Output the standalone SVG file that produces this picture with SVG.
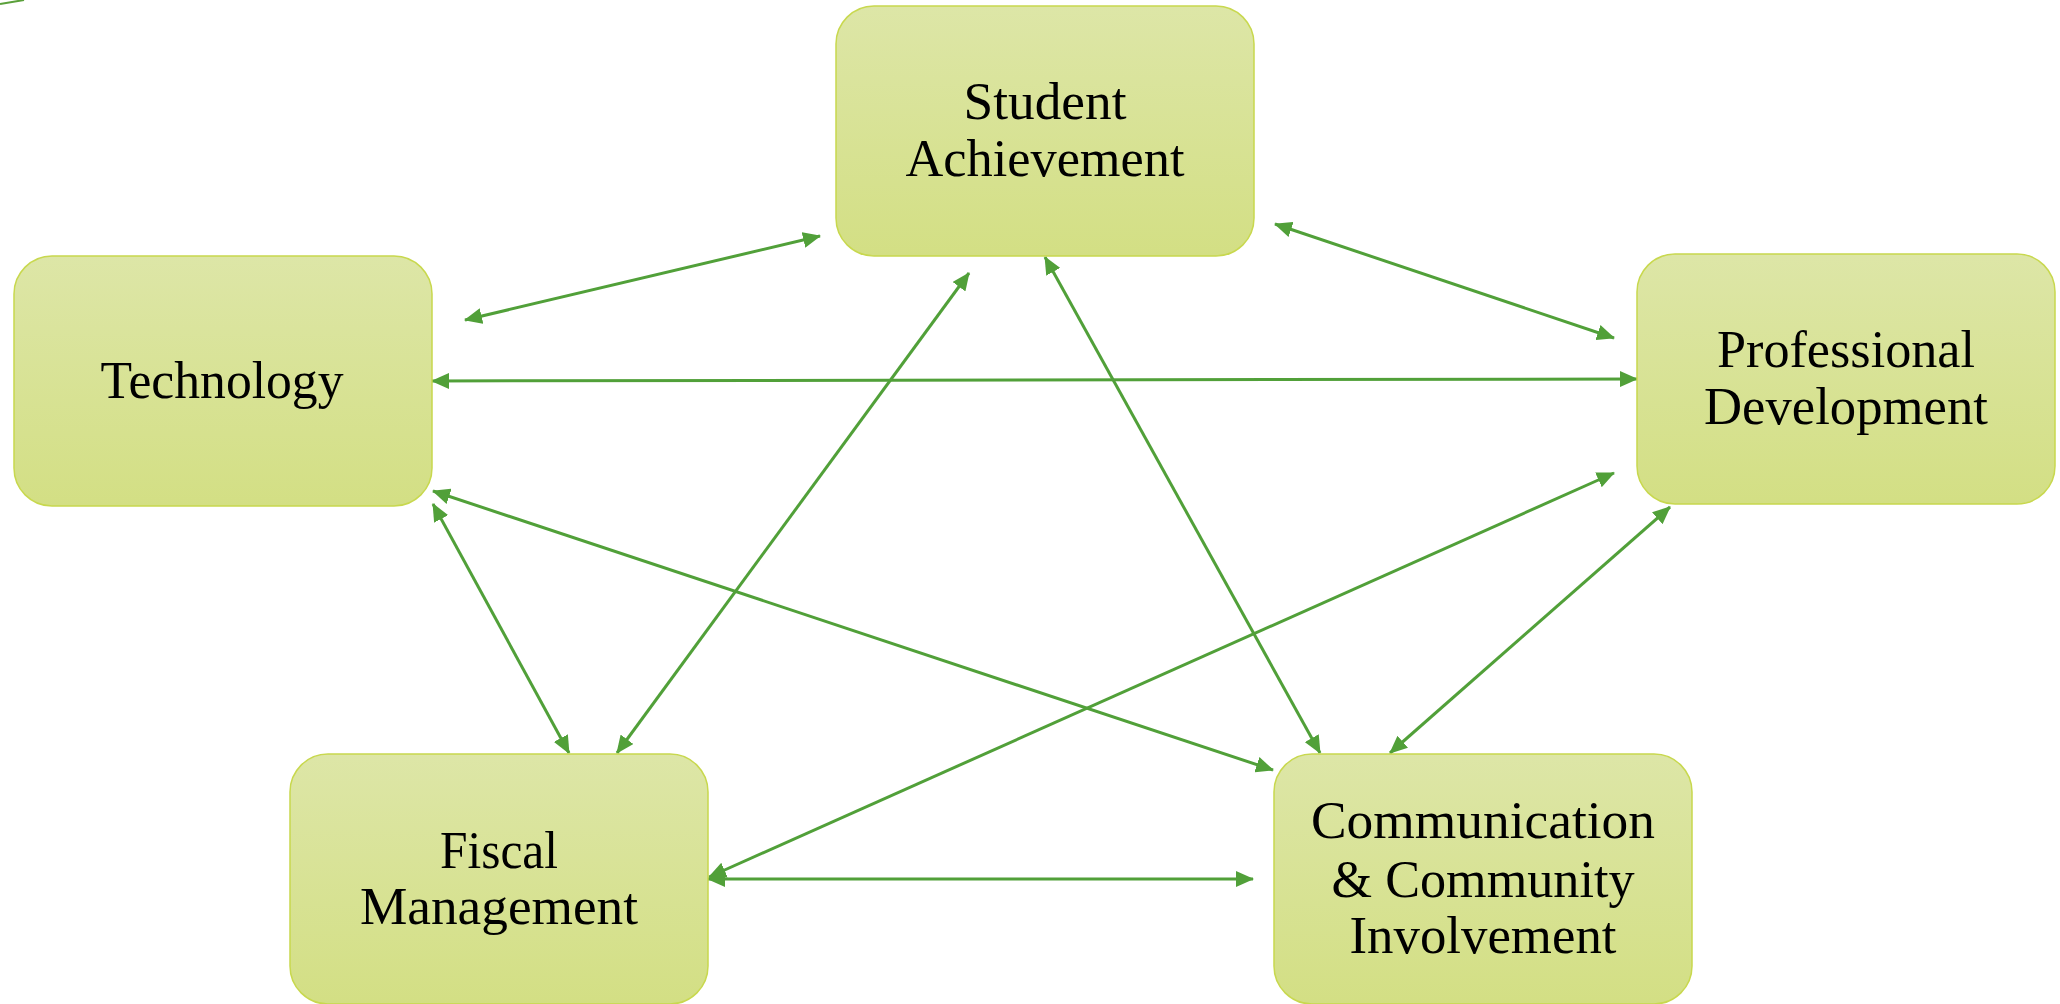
<svg xmlns="http://www.w3.org/2000/svg" width="2060" height="1004" viewBox="0 0 2060 1004">
  <defs>
    <linearGradient id="boxFill" x1="0" y1="0" x2="0" y2="1">
      <stop offset="0" stop-color="#dde6a7"/>
      <stop offset="1" stop-color="#d3df84"/>
    </linearGradient>
    <marker id="arrow" viewBox="0 0 18 16" markerWidth="18" markerHeight="16" refX="17" refY="8" orient="auto-start-reverse" markerUnits="userSpaceOnUse">
      <path d="M0,0 L18,8 L0,16 Z" fill="#51a039"/>
    </marker>
    <style>
      .node rect { fill: url(#boxFill); stroke: #c8d84e; stroke-width: 1.5; }
      .node text { font-family: "Liberation Serif", "Times New Roman", serif; font-size: 52px; fill: #000; text-anchor: middle; }
      .edge { stroke: #51a039; stroke-width: 3; fill: none; marker-start: url(#arrow); marker-end: url(#arrow); }
    </style>
  </defs>
  <rect width="2060" height="1004" fill="#ffffff"/>
  <line x1="0" y1="4" x2="24" y2="0" stroke="#5aa03a" stroke-width="2"/>

  <g id="connectors">
    <line class="edge" x1="465" y1="320" x2="820" y2="236"/>
    <line class="edge" x1="432" y1="381" x2="1637" y2="379"/>
    <line class="edge" x1="1275" y1="224" x2="1614" y2="338"/>
    <line class="edge" x1="969" y1="273" x2="617" y2="753"/>
    <line class="edge" x1="1045" y1="257" x2="1320" y2="753"/>
    <line class="edge" x1="433" y1="491" x2="1273" y2="770"/>
    <line class="edge" x1="433" y1="504" x2="569" y2="753"/>
    <line class="edge" x1="1614" y1="473" x2="709" y2="877"/>
    <line class="edge" x1="1670" y1="507" x2="1390" y2="753"/>
    <line class="edge" x1="708" y1="879" x2="1253" y2="879"/>
  </g>

  <g id="node-student-achievement" class="node">
    <rect x="836" y="6" width="418" height="250" rx="38" ry="38"/>
    <text x="1045" y="119" textLength="163" lengthAdjust="spacingAndGlyphs">Student</text>
    <text x="1045" y="176" textLength="279" lengthAdjust="spacingAndGlyphs">Achievement</text>
  </g>
  <g id="node-technology" class="node">
    <rect x="14" y="256" width="418" height="250" rx="38" ry="38"/>
    <text x="222" y="398" textLength="243" lengthAdjust="spacingAndGlyphs">Technology</text>
  </g>
  <g id="node-professional-development" class="node">
    <rect x="1637" y="254" width="418" height="250" rx="38" ry="38"/>
    <text x="1846" y="367" textLength="258" lengthAdjust="spacingAndGlyphs">Professional</text>
    <text x="1846" y="424" textLength="284" lengthAdjust="spacingAndGlyphs">Development</text>
  </g>
  <g id="node-fiscal-management" class="node">
    <rect x="290" y="754" width="418" height="250" rx="38" ry="38"/>
    <text x="499" y="868" textLength="118" lengthAdjust="spacingAndGlyphs">Fiscal</text>
    <text x="499" y="924" textLength="278" lengthAdjust="spacingAndGlyphs">Management</text>
  </g>
  <g id="node-communication" class="node">
    <rect x="1274" y="754" width="418" height="250" rx="38" ry="38"/>
    <text x="1483" y="838" textLength="344" lengthAdjust="spacingAndGlyphs">Communication</text>
    <text x="1483" y="897" textLength="303" lengthAdjust="spacingAndGlyphs">&amp; Community</text>
    <text x="1483" y="953" textLength="267" lengthAdjust="spacingAndGlyphs">Involvement</text>
  </g>
</svg>
